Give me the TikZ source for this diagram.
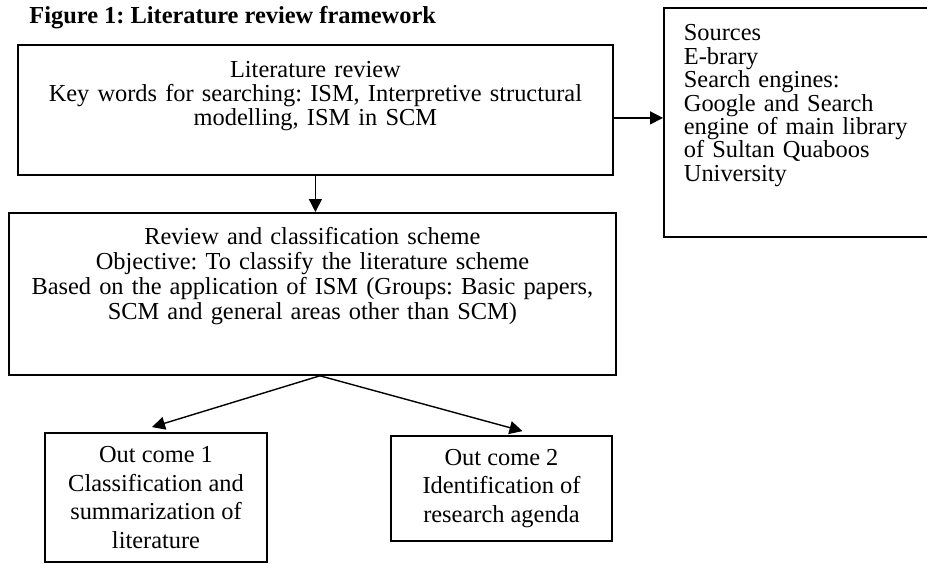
\documentclass[tikz,border=0pt]{standalone}
\usepackage{fontspec}
\setmainfont{Liberation Serif}
\frenchspacing
\usetikzlibrary{arrows.meta}
\tikzstyle{panel}=[draw, line width=0.9pt, inner xsep=4pt, inner ysep=0pt, align=center, font=\fontsize{12.2}{12}\selectfont]
\tikzstyle{outbox}=[draw, line width=0.9pt, inner sep=2pt, align=center, font=\fontsize{12.2}{14.3}\selectfont]
\tikzstyle{flow}=[-{Triangle[length=6.5pt, width=6.5pt]}, line width=0.7pt]

\begin{document}
\begin{tikzpicture}[x=0.5pt, y=-0.5pt]
                \useasboundingbox (0,0) rectangle (927,563);
                \clip (0,0) rectangle (927,563);
                \node[anchor=base west, inner sep=0pt, font=\fontsize{12.2}{12}\selectfont\bfseries] (title) at (29,23) {Figure 1: Literature review framework};
                \node[panel, anchor=north west, text width=289.5pt, text height=16.5pt, text depth=48.5pt] (lit) at (17,44) {Literature review\\Key words for searching: ISM, Interpretive structural\\modelling, ISM in SCM};
                \node[panel, anchor=north west, align=left, text width=116pt, inner xsep=10pt, text height=16.5pt, text depth=98pt, font=\fontsize{12.2}{11.7}\selectfont] (src) at (663,7) {Sources\\E-brary\\Search engines:\\Google and Search\\engine of main library\\of Sultan Quaboos\\University};
                \node[panel, anchor=north west, text width=295.5pt, text height=16pt, text depth=65pt, font=\fontsize{12.2}{12.5}\selectfont] (rev) at (8,212) {Review and classification scheme\\Objective: To classify the literature scheme\\Based on the application of ISM (Groups: Basic papers,\\SCM and general areas other than SCM)};
                \node[outbox, minimum width=111pt, minimum height=64.5pt] (out1) at (156,497.5) {Out come 1\\Classification and\\summarization of\\literature};
                \node[outbox, minimum width=110.5pt, minimum height=52.5pt] (out2) at (501.5,488.5) {Out come 2\\Identification of\\research agenda};
                \coordinate (fork) at ([xshift=3.75pt]rev.south);
                \draw[flow] ([yshift=-4pt]lit.east)--([yshift=-4pt]lit.east -| src.west);
                \draw[flow] (lit.south)--(lit.south |- rev.north);
                \draw[flow] (fork)--([shift={(-2pt,2.5pt)}]out1.north);
                \draw[flow] (fork)--([shift={(10.5pt,2pt)}]out2.north);
            \end{tikzpicture}
\end{document}
